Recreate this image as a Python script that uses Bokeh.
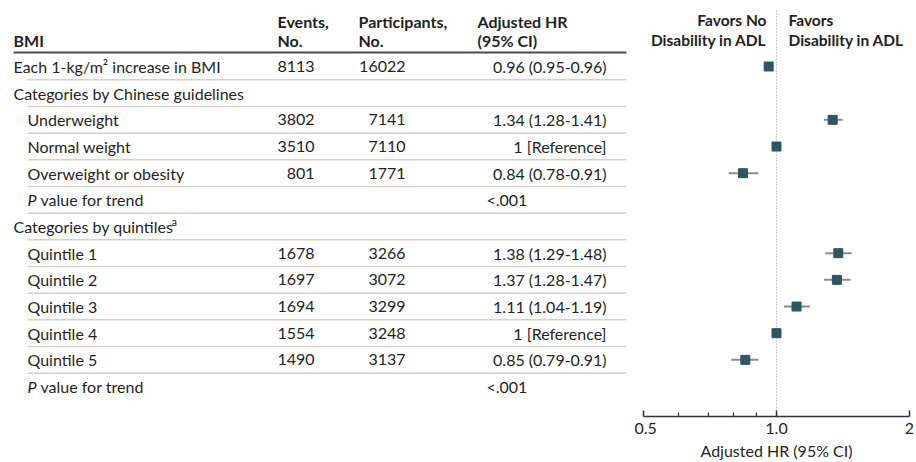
import math
from bokeh.plotting import figure
from bokeh.layouts import row
from bokeh.models import Range1d, FixedTicker, Label
from bokeh.embed import file_html
from bokeh.resources import INLINE
from bokeh.core.properties import value

# ---------------- data ----------------
labels = ["Each 1-kg/m² increase in BMI", "Categories by Chinese guidelines", "Underweight",
          "Normal weight", "Overweight or obesity", "P value for trend", "Categories by quintiles",
          "Quintile 1", "Quintile 2", "Quintile 3", "Quintile 4", "Quintile 5", "P value for trend"]
indent = [0, 0, 1, 1, 1, 1, 0, 1, 1, 1, 1, 1, 1]
events = ["8113", "", "3802", "3510", "801", "", "", "1678", "1697", "1694", "1554", "1490", ""]
participants = ["16022", "", "7141", "7110", "1771", "", "", "3266", "3072", "3299", "3248", "3137", ""]
hr_text = ["0.96 (0.95-0.96)", "", "1.34 (1.28-1.41)", "1 [Reference]", "0.84 (0.78-0.91)", "", "",
           "1.38 (1.29-1.48)", "1.37 (1.28-1.47)", "1.11 (1.04-1.19)", "1 [Reference]",
           "0.85 (0.79-0.91)", ""]
p_trend = ["", "", "", "", "", "<.001", "", "", "", "", "", "", "<.001"]
nan = float("nan")
hr = [0.96, nan, 1.34, 1.00, 0.84, nan, nan, 1.38, 1.37, 1.11, 1.00, 0.85, nan]
lo = [0.95, nan, 1.28, nan, 0.78, nan, nan, 1.29, 1.28, 1.04, nan, 0.79, nan]
hi = [0.96, nan, 1.41, nan, 0.91, nan, nan, 1.48, 1.47, 1.19, nan, 0.91, nan]
x_ticks = [0.5, 1, 2]
x_tick_labels = ["0.5", "1.0", "2"]
x_minor = [0.6, 0.7, 0.8, 0.9]

# ---------------- layout ----------------
W, H = 916, 462
W_LEFT = 634
FRAME_BOTTOM = 416
Y0, PITCH = 66.0, 26.67
FONT = "Lato"
TXT = "#231f20"
FS = "16px"
HFS = "16px"
FAV_FS = "15.5px"
n = len(labels)
ys = [Y0 + PITCH * i for i in range(n)]

y_range = Range1d(FRAME_BOTTOM, 0)

left = figure(width=W_LEFT, height=H, x_range=Range1d(0, W_LEFT), y_range=y_range,
              output_backend="svg", toolbar_location=None, min_border_left=0,
              min_border_right=0, min_border_top=0, min_border_bottom=H - FRAME_BOTTOM)
left.axis.visible = False
left.grid.visible = False
left.outline_line_color = None


def txt(fig, xs, yv, strs, align="left", bold=False, italic=False, size=FS):
    style = "bold" if bold else ("italic" if italic else "normal")
    fig.text(x=xs, y=yv, text=strs, text_font=value(FONT), text_font_size=size,
             text_align=align, text_baseline="middle", text_color=TXT,
             text_font_style=style)


# header
txt(left, [13], [39.5], ["BMI"], bold=True, size=HFS)
txt(left, [277, 358, 477], [20.5] * 3, ["Events,", "Participants,", "Adjusted HR"], bold=True, size=HFS)
txt(left, [277, 358, 477], [39.5] * 3, ["No.", "No.", "(95% CI)"], bold=True, size=HFS)
left.segment(x0=[13], y0=[52], x1=[626], y1=[52], line_color="#4d4d4d", line_width=2)

# row separators
sep_y = [ys[i] + PITCH / 2 for i in range(n - 1)]
left.segment(x0=[27] * len(sep_y), y0=sep_y, x1=[626] * len(sep_y), y1=sep_y,
             line_color="#d4d1c8", line_width=1.5)

# row labels
plain_x, plain_y, plain_t = [], [], []
p_x, p_y = [], []
for i, lab in enumerate(labels):
    x0 = 13 + 14 * indent[i]
    if lab.startswith("P value"):
        p_x.append(x0)
        p_y.append(ys[i])
        plain_x.append(x0 + 13)
        plain_y.append(ys[i])
        plain_t.append(lab[2:])
    else:
        plain_x.append(x0)
        plain_y.append(ys[i])
        plain_t.append(lab)
txt(left, plain_x, plain_y, plain_t)
txt(left, p_x, p_y, ["P"] * len(p_x), italic=True)
txt(left, [171], [ys[6] - 5], ["a"], size="11px")


def col(strs, x, align):
    idx = [i for i, s in enumerate(strs) if s]
    txt(left, [x] * len(idx), [ys[i] for i in idx], [strs[i] for i in idx], align=align)


col(events, 314, "right")
col(participants, 405, "right")
col(hr_text, 606, "right")
col(p_trend, 486, "left")

# ---------------- forest plot ----------------
right = figure(width=W - W_LEFT, height=H, x_axis_type="log", x_range=Range1d(0.5, 2),
               y_range=y_range, output_backend="svg", toolbar_location=None,
               min_border_left=9, min_border_right=7, min_border_top=0,
               min_border_bottom=H - FRAME_BOTTOM)
right.grid.visible = False
right.yaxis.visible = False
right.outline_line_color = None

right.segment(x0=[1], y0=[10], x1=[1], y1=[FRAME_BOTTOM], line_color="#9a9a9a",
              line_width=1, line_dash="1 2")
right.segment(x0=lo, y0=ys, x1=hi, y1=ys, line_color="#8a8a8a", line_width=2)
right.scatter(x=hr, y=ys, marker="square", size=9, fill_color="#2d5562", line_color="#2d5562")

for xo, align, l1, l2 in [(-10, "right", "Favors No", "Disability in ADL"),
                          (12, "left", "Favors", "Disability in ADL")]:
    for yy, t in [(19.5, l1), (39.5, l2)]:
        right.add_layout(Label(x=1, y=yy, x_offset=xo, text=t, text_align=align,
                               text_baseline="middle", text_font=FONT,
                               text_font_size=FAV_FS, text_font_style="bold", text_color=TXT))

ax = right.xaxis[0]
ax.ticker = FixedTicker(ticks=x_ticks, minor_ticks=x_minor)
ax.major_label_overrides = {t: s for t, s in zip(x_ticks, x_tick_labels)}
ax.axis_line_color = "#333333"
ax.axis_line_width = 1.5
ax.major_tick_line_color = "#333333"
ax.major_tick_line_width = 1.5
ax.minor_tick_line_color = "#333333"
ax.minor_tick_line_width = 1.2
ax.major_tick_in = 6
ax.major_tick_out = 0
ax.minor_tick_in = 4
ax.minor_tick_out = 0
ax.major_label_standoff = 6
ax.major_label_text_font = FONT
ax.major_label_text_font_size = "16px"
ax.major_label_text_color = TXT
ax.axis_label = "Adjusted HR (95% CI)"
ax.axis_label_standoff = 4
ax.axis_label_text_font = FONT
ax.axis_label_text_font_size = "16px"
ax.axis_label_text_font_style = "normal"
ax.axis_label_text_color = TXT

layout = row(left, right)
open("out.html", "w").write(file_html(layout, INLINE))
